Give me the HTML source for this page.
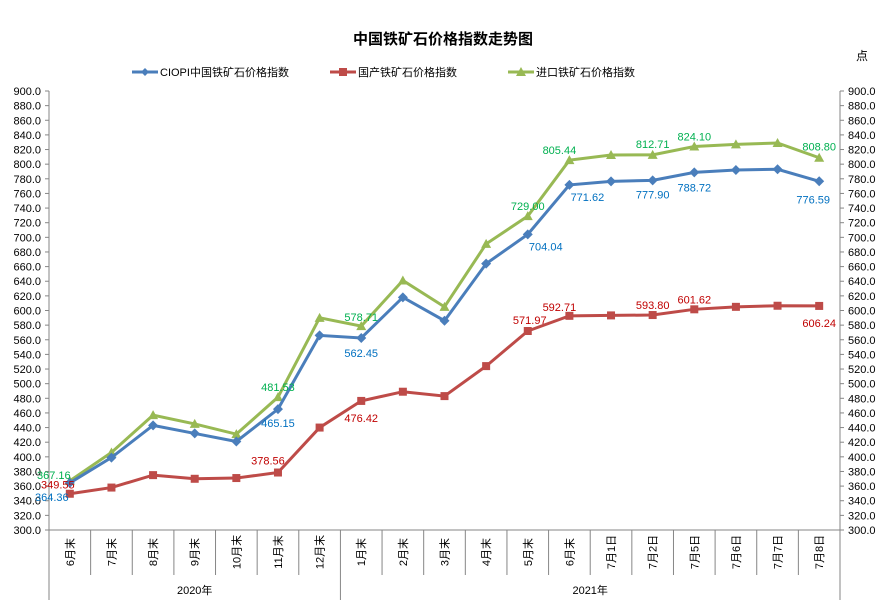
<!DOCTYPE html>
<html><head><meta charset="utf-8"><style>
body{margin:0;background:#fff;font-family:"Liberation Sans","Noto Sans CJK SC",sans-serif}
svg text{font-family:"Liberation Sans","Noto Sans CJK SC",sans-serif}
</style></head><body>
<svg id="c" width="886" height="600" xmlns="http://www.w3.org/2000/svg">
<text x="443" y="44" text-anchor="middle" font-size="15" font-weight="bold">中国铁矿石价格指数走势图</text>
<text x="862" y="60" text-anchor="middle" font-size="12">点</text>
<g>
<line x1="132" y1="72" x2="158" y2="72" stroke="#4a7ebb" stroke-width="3"/><path d="M145 68 L149 72 L145 76 L141 72Z" fill="#4a7ebb"/>
<text x="160" y="76" font-size="11">CIOPI中国铁矿石价格指数</text>
<line x1="330" y1="72" x2="356" y2="72" stroke="#be4b48" stroke-width="3"/><rect x="339" y="68" width="8" height="8" fill="#be4b48"/>
<text x="358" y="76" font-size="11">国产铁矿石价格指数</text>
<line x1="508" y1="72" x2="534" y2="72" stroke="#98b954" stroke-width="3"/><path d="M521 67 L526 76 L516 76Z" fill="#98b954"/>
<text x="536" y="76" font-size="11">进口铁矿石价格指数</text>
</g>
<g id="axes"></g><g id="marks"></g>
</svg>
<script>
const categories=["6月末","7月末","8月末","9月末","10月末","11月末","12月末","1月末","2月末","3月末","4月末","5月末","6月末","7月1日","7月2日","7月5日","7月6日","7月7日","7月8日"];
const ciopi=[364.36,399,443,432,421,465.15,566,562.45,618,586,664,704.04,771.62,776.5,777.90,788.72,792,793,776.59];
const domestic=[349.55,358,375,370,371,378.56,440,476.42,489,483,524,571.97,592.71,593.3,593.80,601.62,605,606.5,606.24];
const imported=[367.16,406,457,445,431,481.53,590,578.71,641,605,691,729.00,805.44,812.5,812.71,824.10,827,829,808.80];
const ticks=[300,320,340,360,380,400,420,440,460,480,500,520,540,560,580,600,620,640,660,680,700,720,740,760,780,800,820,840,860,880,900];
const years=[["2020年",7],["2021年",12]];
// labelled points: [series, index, dx, dy]
const labels=[["c",0,-18,14],["c",5,0,14],["c",7,0,15],["c",11,18,12],["c",12,18,12],["c",14,0,14],["c",15,0,15],["c",18,-6,18],
["d",0,-12,-9],["d",5,-10,-12],["d",7,0,17],["d",11,2,-11],["d",12,-10,-9],["d",14,0,-10],["d",15,0,-10],["d",18,0,17],
["i",0,-16,-6],["i",5,0,-10],["i",7,0,-9],["i",11,0,-10],["i",12,-10,-10],["i",14,0,-11],["i",15,0,-10],["i",18,0,-11]];
const L=49,R=840,T=91,B=530,N=categories.length,cw=(R-L)/N;
const x=i=>L+cw*(i+0.5), y=v=>B-(v-300)/600*(B-T);
const ns="http://www.w3.org/2000/svg";
function mk(tag,attrs,parent,txt){const e=document.createElementNS(ns,tag);for(const k in attrs)e.setAttribute(k,attrs[k]);if(txt!=null)e.textContent=txt;parent.appendChild(e);return e;}
const ax=document.getElementById('axes'),mg=document.getElementById('marks');
let e;
e=mk('line',{x1:L,y1:T,x2:L,y2:B,stroke:'#868686'},ax);


e=mk('line',{x1:R,y1:T,x2:R,y2:B,stroke:'#868686'},ax);


e=mk('line',{x1:L,y1:B,x2:R,y2:B,stroke:'#868686'},ax);


ticks.forEach(t=>{
 mk('line',{x1:L-4,y1:y(t),x2:L,y2:y(t),stroke:'#868686'},ax);
 mk('line',{x1:R,y1:y(t),x2:R+4,y2:y(t),stroke:'#868686'},ax);
 e=mk('text',{x:L-8,y:y(t)+4,'text-anchor':'end','font-size':11},ax,t.toFixed(1));
 
 
 e=mk('text',{x:R+8,y:y(t)+4,'font-size':11},ax,t.toFixed(1));
 
 
});
for(let i=0;i<=N;i++){mk('line',{x1:L+cw*i,y1:B,x2:L+cw*i,y2:575,stroke:'#868686'},ax);}
categories.forEach((c,i)=>{
 e=mk('text',{x:0,y:0,'font-size':11,'text-anchor':'middle',transform:`translate(${x(i)+4},${552}) rotate(-90)`},ax,c);
 
 
});
let s=0;
mk('line',{x1:L,y1:575,x2:L,y2:600,stroke:'#868686'},ax);
years.forEach(([n,k])=>{
 const x0=L+cw*s,x1=L+cw*(s+k);
 mk('line',{x1:x1,y1:575,x2:x1,y2:600,stroke:'#868686'},ax);
 e=mk('text',{x:(x0+x1)/2,y:594,'text-anchor':'middle','font-size':11},ax,n);
 
 
 s+=k;
});
const series={c:[ciopi,'#4a7ebb','diamond','#0070c0','ciopi'],d:[domestic,'#be4b48','square','#c00000','domestic'],i:[imported,'#98b954','triangle','#00b050','import']};
['d','i','c'].forEach(k=>{
 const [vals,col,shape,,nm]=series[k];
 e=mk('polyline',{points:vals.map((v,i)=>x(i)+','+y(v)).join(' '),fill:'none',stroke:col,'stroke-width':3},mg);
 
 
 vals.forEach((v,i)=>{
  const X=x(i),Y=y(v);
  if(shape=='diamond')e=mk('path',{d:`M${X} ${Y-5}L${X+5} ${Y}L${X} ${Y+5}L${X-5} ${Y}Z`,fill:col},mg);
  else if(shape=='square')e=mk('rect',{x:X-4,y:Y-4,width:8,height:8,fill:col},mg);
  else e=mk('path',{d:`M${X} ${Y-5}L${X+5} ${Y+4}L${X-5} ${Y+4}Z`,fill:col},mg);
  
  
 });
});
labels.forEach(([k,i,dx,dy])=>{
 const [vals,,,tc,nm]=series[k];
 e=mk('text',{x:x(i)+dx,y:y(vals[i])+dy+4,'text-anchor':'middle','font-size':11,fill:tc},mg,vals[i].toFixed(2));
 
 
});
</script>
</body></html>
